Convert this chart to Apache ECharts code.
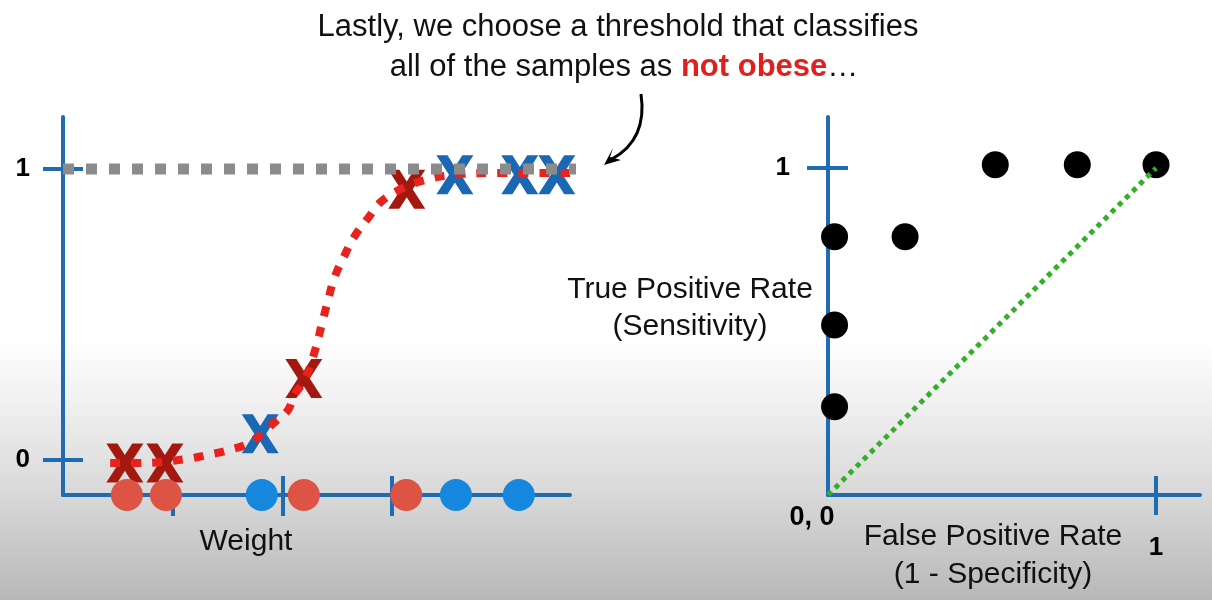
<!DOCTYPE html>
<html>
<head>
<meta charset="utf-8">
<script src="https://cdn.jsdelivr.net/npm/echarts@6/dist/echarts.min.js"></script>
<style>
html,body{margin:0;padding:0;}
#chart{width:1212px;height:600px;}
</style>
</head>
<body>
<div id="chart"></div>
<script>
// ---- data ----
// logistic curve (weight, probability)
const curveX = [0.93, 1.52, 2.43, 2.84, 3.27, 3.71, 4.22, 4.44, 4.56, 4.77, 4.99, 5.11, 5.23, 5.35, 5.54, 5.74, 6.02, 6.27, 6.71, 7.14, 7.65, 8.50, 10.0];
const curveY = [-0.01, -0.01, 0.003, 0.017, 0.034, 0.062, 0.137, 0.172, 0.223, 0.275, 0.388, 0.471, 0.55, 0.625, 0.698, 0.766, 0.832, 0.887, 0.935, 0.962, 0.979, 0.986, 0.986];
// X markers
const redXWeight = [1.22, 2.01, 4.75, 6.78];
const redXProb = [-0.01, -0.01, 0.28, 0.93];
const blueXWeight = [3.89, 7.73, 9.01, 9.74];
const blueXProb = [0.09, 0.98, 0.98, 0.98];
// samples on the weight axis
const redSamples = [1.26, 2.03, 4.75, 6.77];
const blueSamples = [3.92, 7.75, 8.99];
// thresholds (ticks on the weight axis)
const thresholds = [2.17, 4.34, 6.49];
// threshold line (classify all as not obese)
const thresholdLineX = [0, 10.55];
const thresholdLineY = [1, 1];
// ROC points
const rocFPR = [0.02, 0.02, 0.02, 0.235, 0.51, 0.76, 1.0];
const rocTPR = [0.27, 0.52, 0.79, 0.79, 1.01, 1.01, 1.01];
const diagX = [0, 1];
const diagY = [0, 1];
const leftYTicks = [0, 1];
const rocTicks = [1];

// ---- styling ----
const AXIS = '#1f6cb2';
const FONT = 'Liberation Sans, Arial, Helvetica, sans-serif';
const XPATH = 'path://M0,0 L30,0 L50,30 L70,0 L100,0 L66,50 L100,100 L70,100 L50,70 L30,100 L0,100 L34,50 Z';

const zip = (a, b) => a.map((v, i) => [v, b[i]]);

const LMINY = -0.1203, LMAXY = 1.1787;
const RMAXX = 1.1341, RMAXY = 1.156;

function valAxis(opts) {
  return Object.assign({
    type: 'value',
    splitLine: {show: false},
    axisLine: {show: true, onZero: false, lineStyle: {color: AXIS, width: 4, opacity: 0}},
    axisTick: {show: false},
    axisLabel: {show: false}
  }, opts);
}
const tickStyle = {color: AXIS, width: 4};
const mainLine = {show: true, onZero: false, lineStyle: {color: AXIS, width: 4}};
const labelStyle = {color: '#000', fontSize: 26, fontWeight: 'bold', fontFamily: FONT};

const chart = echarts.init(document.getElementById('chart'), null, {renderer: 'canvas'});

const option = {
  animation: false,
  backgroundColor: {
    type: 'linear', x: 0, y: 0, x2: 0, y2: 1,
    colorStops: [
      {offset: 0, color: '#ffffff'},
      {offset: 0.56, color: '#ffffff'},
      {offset: 0.66, color: '#f2f2f2'},
      {offset: 0.82, color: '#d9d9d9'},
      {offset: 1, color: '#b8b8b8'}
    ]
  },
  grid: [
    {left: 63, top: 117, width: 507, height: 378},
    {left: 828, top: 117, width: 372, height: 378}
  ],
  xAxis: [
    valAxis({gridIndex: 0, position: 'bottom', min: 0, max: 10, axisLine: mainLine,
      axisTick: {show: true, length: 21, customValues: thresholds, lineStyle: tickStyle}}),
    valAxis({gridIndex: 0, position: 'bottom', min: 0, max: 10,
      axisTick: {show: true, inside: true, length: 19, customValues: thresholds, lineStyle: tickStyle}}),
    valAxis({gridIndex: 1, position: 'bottom', min: 0, max: RMAXX, axisLine: mainLine,
      axisTick: {show: true, length: 20, customValues: rocTicks, lineStyle: tickStyle},
      axisLabel: Object.assign({show: true, customValues: rocTicks, margin: 40}, labelStyle)}),
    valAxis({gridIndex: 1, position: 'bottom', min: 0, max: RMAXX,
      axisTick: {show: true, inside: true, length: 19, customValues: rocTicks, lineStyle: tickStyle}})
  ],
  yAxis: [
    valAxis({gridIndex: 0, position: 'left', min: LMINY, max: LMAXY, axisLine: mainLine,
      axisTick: {show: true, length: 20, customValues: leftYTicks, lineStyle: tickStyle},
      axisLabel: Object.assign({show: true, customValues: leftYTicks, margin: 33}, labelStyle)}),
    valAxis({gridIndex: 0, position: 'left', min: LMINY, max: LMAXY,
      axisTick: {show: true, inside: true, length: 20, customValues: leftYTicks, lineStyle: tickStyle}}),
    valAxis({gridIndex: 1, position: 'left', min: 0, max: RMAXY, axisLine: mainLine,
      axisTick: {show: true, length: 21, customValues: rocTicks, lineStyle: tickStyle},
      axisLabel: Object.assign({show: true, customValues: rocTicks, margin: 38}, labelStyle)}),
    valAxis({gridIndex: 1, position: 'left', min: 0, max: RMAXY,
      axisTick: {show: true, inside: true, length: 20, customValues: rocTicks, lineStyle: tickStyle}})
  ],
  series: [
    {
      type: 'line', xAxisIndex: 0, yAxisIndex: 0,
      data: zip(curveX, curveY), smooth: 0.4, symbol: 'none', clip: false,
      lineStyle: {color: '#e8221c', width: 8, type: [10, 11], cap: 'butt'}
    },
    {
      type: 'scatter', xAxisIndex: 0, yAxisIndex: 0, clip: false,
      data: zip(redXWeight, redXProb), symbol: XPATH, symbolSize: [37, 39],
      itemStyle: {color: '#a5180f', opacity: 1}
    },
    {
      type: 'scatter', xAxisIndex: 0, yAxisIndex: 0, clip: false,
      data: zip(blueXWeight, blueXProb), symbol: XPATH, symbolSize: [37, 39],
      itemStyle: {color: '#1a68b3', opacity: 1}
    },
    {
      type: 'line', xAxisIndex: 0, yAxisIndex: 0, clip: false,
      data: zip(thresholdLineX, thresholdLineY), symbol: 'none',
      lineStyle: {color: '#8b8b8b', width: 11, type: [11, 12], cap: 'butt'}
    },
    {
      type: 'scatter', xAxisIndex: 0, yAxisIndex: 0, clip: false,
      data: redSamples.map(v => [v, LMINY]), symbol: 'circle', symbolSize: 32,
      itemStyle: {color: '#dd5444', opacity: 1}
    },
    {
      type: 'scatter', xAxisIndex: 0, yAxisIndex: 0, clip: false,
      data: blueSamples.map(v => [v, LMINY]), symbol: 'circle', symbolSize: 32,
      itemStyle: {color: '#1587dc', opacity: 1}
    },
    {
      type: 'line', xAxisIndex: 2, yAxisIndex: 2, clip: false,
      data: zip(diagX, diagY), symbol: 'none',
      lineStyle: {color: '#36ae2b', width: 5, type: [5, 5], cap: 'butt'}
    },
    {
      type: 'scatter', xAxisIndex: 2, yAxisIndex: 2, clip: false,
      data: zip(rocFPR, rocTPR), symbol: 'circle', symbolSize: 27,
      itemStyle: {color: '#000000', opacity: 1}
    }
  ],
  graphic: [
    {type: 'text', x: 618, y: 27, style: {
      text: 'Lastly, we choose a threshold that classifies', font: '31px ' + FONT, fill: '#111',
      textAlign: 'center', textVerticalAlign: 'middle'}},
    {type: 'text', x: 624, y: 67, style: {
      text: '{a|all of the samples as }{b|not obese}{a|…}',
      rich: {
        a: {fontSize: 31, fontFamily: FONT, fill: '#111'},
        b: {fontSize: 31, fontFamily: FONT, fill: '#e0201c', fontWeight: 'bold'}
      },
      textAlign: 'center', textVerticalAlign: 'middle'}},
    {type: 'bezierCurve', shape: {x1: 641, y1: 94, cpx1: 646, cpy1: 128, cpx2: 632, cpy2: 148, x2: 612, y2: 159},
      style: {stroke: '#000', lineWidth: 3, fill: null}},
    {type: 'polygon', shape: {points: [[604, 165], [613, 148], [610, 157], [621, 160]]}, style: {fill: '#000'}},
    {type: 'text', x: 246, y: 542, style: {text: 'Weight', font: '30px ' + FONT, fill: '#111', textAlign: 'center', textVerticalAlign: 'middle'}},
    {type: 'text', x: 690, y: 308, style: {text: 'True Positive Rate\n(Sensitivity)', font: '30px ' + FONT, lineHeight: 37, fill: '#111', textAlign: 'center', textVerticalAlign: 'middle'}},
    {type: 'text', x: 993, y: 556, style: {text: 'False Positive Rate\n(1 - Specificity)', font: '30px ' + FONT, lineHeight: 38, fill: '#111', textAlign: 'center', textVerticalAlign: 'middle'}},
    {type: 'text', x: 812, y: 518, style: {text: '0, 0', font: 'bold 27px ' + FONT, fill: '#000', textAlign: 'center', textVerticalAlign: 'middle'}}
  ]
};
chart.setOption(option);
</script>
</body>
</html>
